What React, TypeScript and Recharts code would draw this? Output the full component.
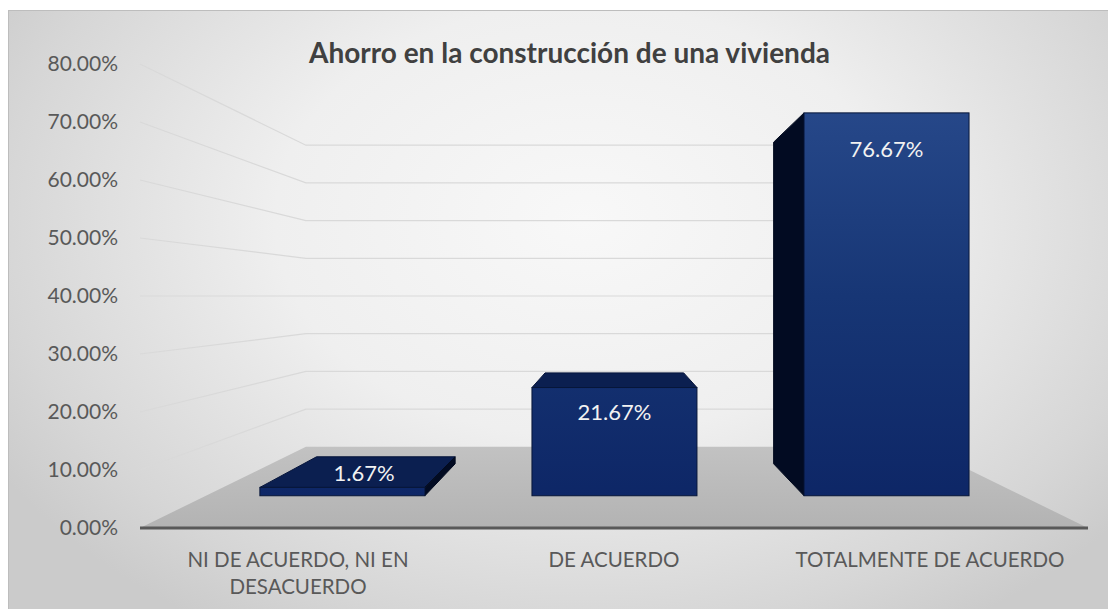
import React from 'react';
import {
  ComposedChart,
  Bar,
  XAxis,
  YAxis,
  ReferenceArea,
  LabelList,
} from 'recharts';

// ---------------- data ----------------
const categories = ['NI DE ACUERDO, NI EN DESACUERDO', 'DE ACUERDO', 'TOTALMENTE DE ACUERDO'];
const tickLabelLines = [['NI DE ACUERDO, NI EN', 'DESACUERDO'], ['DE ACUERDO'], ['TOTALMENTE DE ACUERDO']];
const values = [1.67, 21.67, 76.67];
const yTicks = [0, 10, 20, 30, 40, 50, 60, 70, 80];
const title = 'Ahorro en la construcción de una vivienda';

const data = categories.map((cat, i) => ({ cat, value: values[i] }));

// ---------------- layout / perspective ----------------
const W = 1108;
const H = 601;
const MARGIN = { top: 54, right: 28, bottom: 0, left: 0 };
const Y_AXIS_W = 132;
const X_AXIS_H = 83;
const PLOT_L = MARGIN.left + Y_AXIS_W;
const PLOT_R = W - MARGIN.right;
const PLOT_T = MARGIN.top;
const PLOT_B = H - X_AXIS_H;
const VP = { x: (PLOT_L + PLOT_R) / 2, y: (PLOT_T + PLOT_B) / 2 }; // vanishing point (px)
const Y_MAX = 80;
const VP_VAL = Y_MAX / 2;
const S_BAR = 0.861; // scale of the bars' front plane
const D_BAR = 0.16; // depth of a bar
const S_BACK = 0.65; // scale of the back wall

const barDomain = [VP_VAL - VP_VAL / S_BAR, VP_VAL + (Y_MAX - VP_VAL) / S_BAR];
const barPad = ((1 - S_BAR) * (PLOT_R - PLOT_L)) / 2;

const FONT = "Lato, 'Open Sans', sans-serif";
const AXIS_COLOR = '#595959';
const GRID_COLOR = '#d9d9d9';

type P = { x: number; y: number };
const toBack = (px: number, py: number): P => ({
  x: px + D_BAR * (VP.x - px),
  y: py + D_BAR * (VP.y - py),
});
const pts = (arr: P[]) => arr.map((p) => `${p.x},${p.y}`).join(' ');

const gridTicks = yTicks.filter((v) => v > 0);

// floor + perspective gridlines, drawn inside the plot rectangle given by the library
const Stage = (props: any) => {
  const { x, y, width, height } = props;
  if (x == null || isNaN(x)) return null;
  const vp = { x: x + width / 2, y: y + height / 2 };
  const py = (v: number) => y + height - (v / Y_MAX) * height;
  const back = (px: number, pyv: number): P => ({
    x: vp.x + S_BACK * (px - vp.x),
    y: vp.y + S_BACK * (pyv - vp.y),
  });
  const y0 = py(0);
  const floor = [
    { x, y: y0 },
    { x: x + width, y: y0 },
    back(x + width, y0),
    back(x, y0),
  ];
  return (
    <g>
      <polygon points={pts(floor)} fill="url(#floorGrad)" />
      {gridTicks.map((v) => {
        const f = { x, y: py(v) };
        const bl = back(x, py(v));
        const br = back(x + width, py(v));
        return (
          <polyline
            key={v}
            points={pts([f, bl, br])}
            fill="none"
            stroke={GRID_COLOR}
            strokeWidth={1.2}
          />
        );
      })}
    </g>
  );
};

const Bar3D = (props: any) => {
  const { x, y, width, height } = props;
  if (width == null || height == null || isNaN(x) || isNaN(y)) return null;
  const fl = { x, y };
  const fr = { x: x + width, y };
  const bl = { x, y: y + height };
  const br = { x: x + width, y: y + height };
  const bfl = toBack(fl.x, fl.y);
  const bfr = toBack(fr.x, fr.y);
  const bbl = toBack(bl.x, bl.y);
  const bbr = toBack(br.x, br.y);
  return (
    <g>
      {VP.y < y && <polygon points={pts([fl, fr, bfr, bfl])} fill="#0b1f50" stroke="#06143a" strokeWidth={1} />}
      {VP.x < x && <polygon points={pts([fl, bfl, bbl, bl])} fill="#020b22" stroke="#020a1e" strokeWidth={1} />}
      {VP.x > x + width && <polygon points={pts([fr, bfr, bbr, br])} fill="#020b22" stroke="#020a1e" strokeWidth={1} />}
      <rect x={x} y={y} width={width} height={height} fill="url(#barFront)" stroke="#071639" strokeWidth={1} />
    </g>
  );
};

const BarLabel = (props: any) => {
  const { x, y, width, height, value } = props;
  if (x == null) return null;
  const cx = x + width / 2;
  let lx = cx;
  let ly: number;
  if (height < 24) {
    const b = toBack(cx, y);
    lx = (cx + b.x) / 2;
    ly = (y + b.y) / 2;
  } else {
    ly = y + 20 + 0.04 * height;
  }
  return (
    <text x={lx} y={ly} fill="#f2f2f2" fontSize={22} fontFamily={FONT} textAnchor="middle" dominantBaseline="central">
      {`${Number(value).toFixed(2)}%`}
    </text>
  );
};

const CatTick = (props: any) => {
  const { x, y, payload } = props;
  const idx = payload && payload.index != null ? payload.index : categories.indexOf(payload.value);
  const lines = tickLabelLines[idx] || [String(payload.value)];
  return (
    <text x={x} y={y + 39} fill={AXIS_COLOR} fontSize={20.5} fontFamily={FONT} textAnchor="middle">
      {lines.map((l, i) => (
        <tspan key={i} x={x} dy={i === 0 ? 0 : 27}>
          {l}
        </tspan>
      ))}
    </text>
  );
};

export default function App() {
  return (
    <div
      style={{
        position: 'relative',
        top: 2,
        width: W,
        height: H,
        background:
          'radial-gradient(ellipse 62% 80% at 52% 35%, #f8f8f8 0%, #efefef 45%, #d6d6d6 85%, #cbcbcb 100%)',
        boxShadow: 'inset 1px 1px 0 #bdbdbd',
      }}
    >
      <ComposedChart width={W} height={H} data={data} margin={MARGIN}>
        <defs>
          <linearGradient id="barFront" gradientUnits="userSpaceOnUse" x1={0} y1={PLOT_T} x2={0} y2={PLOT_B}>
            <stop offset="0%" stopColor="#2a4c8e" />
            <stop offset="50%" stopColor="#173675" />
            <stop offset="100%" stopColor="#0c2464" />
          </linearGradient>
          <linearGradient id="floorGrad" x1={0} y1={0} x2={0} y2={1}>
            <stop offset="0%" stopColor="#c2c2c2" />
            <stop offset="100%" stopColor="#b3b3b3" />
          </linearGradient>
        </defs>
        <XAxis
          xAxisId="cat"
          dataKey="cat"
          height={X_AXIS_H}
          axisLine={{ stroke: AXIS_COLOR, strokeWidth: 3 }}
          tickLine={false}
          tickSize={0}
          tickMargin={0}
          interval={0}
          tick={<CatTick />}
        />
        <XAxis xAxisId="xbars" dataKey="cat" hide height={0} padding={{ left: barPad, right: barPad }} />
        <YAxis
          yAxisId="front"
          width={Y_AXIS_W}
          domain={[0, Y_MAX]}
          ticks={yTicks}
          allowDataOverflow
          axisLine={false}
          tickLine={false}
          tickSize={0}
          tickMargin={22}
          tick={{ fill: AXIS_COLOR, fontSize: 21, fontFamily: FONT }}
          tickFormatter={(v: number) => `${v.toFixed(2)}%`}
        />
        <YAxis yAxisId="ybars" hide width={0} domain={barDomain} allowDataOverflow />

        <ReferenceArea xAxisId="cat" yAxisId="front" y1={0} y2={Y_MAX} shape={<Stage />} ifOverflow="visible" />

        <Bar
          xAxisId="xbars"
          yAxisId="ybars"
          dataKey="value"
          barSize={165}
          shape={<Bar3D />}
          isAnimationActive={false}
        >
          <LabelList dataKey="value" content={<BarLabel />} />
        </Bar>
      </ComposedChart>
      <div
        style={{
          position: 'absolute',
          left: 561.5,
          top: 28,
          transform: 'translateX(-50%)',
          whiteSpace: 'nowrap',
          fontFamily: FONT,
          fontWeight: 700,
          fontSize: 28,
          lineHeight: '28px',
          color: '#404040',
        }}
      >
        {title}
      </div>
    </div>
  );
}
